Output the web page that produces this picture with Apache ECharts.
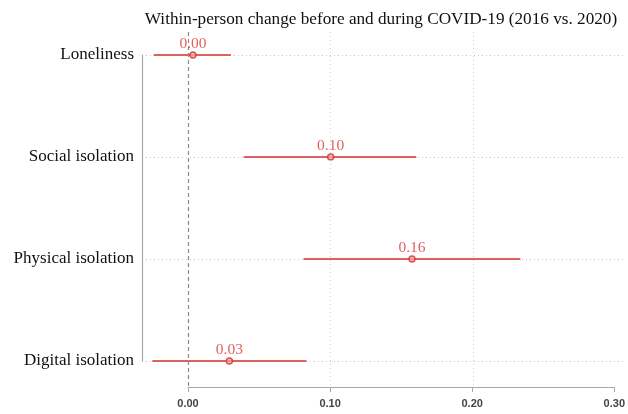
<!DOCTYPE html>
<html>
<head>
<meta charset="utf-8">
<script src="https://cdn.jsdelivr.net/npm/echarts@6/dist/echarts.min.js"></script>
<style>
html,body{margin:0;padding:0;background:#fff;}
#chart{width:628px;height:414px;}
</style>
</head>
<body>
<div id="chart"></div>
<script>
const titleText = 'Within-person change before and during COVID-19 (2016 vs. 2020)';
const categories = ['Loneliness', 'Social isolation', 'Physical isolation', 'Digital isolation'];
const estimates = [0.0035, 0.100, 0.157, 0.029];
const ciLow = [-0.024, 0.039, 0.081, -0.025];
const ciHigh = [0.030, 0.160, 0.233, 0.083];
const xTickMin = 0, xTickMax = 0.3, xTickStep = 0.1;
const refLines = [0.1, 0.2];

const RED = '#d62f2f';
const AXIS = '#a8a8a8';
const SERIF = '"Liberation Serif", "Times New Roman", serif';

// pixel geometry of the plot
const plotLeft = 142, plotRight = 623, zeroPx = 188, maxPx = 616;
const pxPerUnit = (maxPx - zeroPx) / (xTickMax - xTickMin);
const xMin = xTickMin - (zeroPx - plotLeft) / pxPerUnit;
const xMax = xTickMax + (plotRight - maxPx) / pxPerUnit;
const gTop = 32, gBottomPx = 387, firstCat = 55, lastCat = 361;
const catStep = (lastCat - firstCat) / (categories.length - 1);
const yMin = -(firstCat - gTop) / catStep;
const yMax = (categories.length - 1) + (gBottomPx - lastCat) / catStep;

const idx = categories.map((c, i) => i);
const pointData = idx.map(i => [estimates[i], i]);
const ciData = idx.map(i => [ciLow[i], ciHigh[i], i]);

const chart = echarts.init(document.getElementById('chart'), null, {renderer: 'canvas'});
chart.setOption({
  animation: false,
  backgroundColor: '#fff',
  title: {
    text: titleText,
    left: 376, top: 6, textAlign: 'center',
    textStyle: {fontFamily: SERIF, fontSize: 17.2, fontWeight: 'normal', color: '#111'}
  },
  grid: [
    {left: plotLeft, right: 628 - plotRight, top: gTop, bottom: 414 - gBottomPx},
    {left: plotLeft, right: 628 - plotRight, top: firstCat, bottom: 414 - lastCat},
    {left: zeroPx, right: 628 - maxPx, top: gTop, bottom: 414 - gBottomPx}
  ],
  xAxis: [
    {gridIndex: 0, type: 'value', min: xMin, max: xMax, show: false},
    {gridIndex: 1, type: 'value', min: 0, max: 1, show: false},
    {gridIndex: 2, type: 'value', min: xTickMin, max: xTickMax, interval: xTickStep,
     axisLine: {show: true, lineStyle: {color: AXIS, width: 1.2}},
     axisTick: {show: true, length: 5, lineStyle: {color: AXIS}},
     axisLabel: {margin: 11, fontSize: 11, fontWeight: 'bold', color: '#444', fontFamily: 'Liberation Sans, Arial, sans-serif',
                 formatter: v => v.toFixed(2)},
     splitLine: {show: false}}
  ],
  yAxis: [
    {gridIndex: 0, type: 'value', inverse: true, min: yMin, max: yMax, show: false},
    {gridIndex: 1, type: 'category', inverse: true, boundaryGap: false, data: categories,
     axisLine: {show: true, lineStyle: {color: AXIS, width: 1.2}},
     axisTick: {show: false},
     axisLabel: {interval: 0, margin: 8, fontFamily: SERIF, fontSize: 17, color: '#111'},
     splitLine: {show: true, interval: 0, lineStyle: {color: '#c8c8c8', type: [1, 3], width: 1}}},
    {gridIndex: 2, type: 'value', show: false, min: 0, max: 1}
  ],
  series: [
    {
      type: 'scatter', xAxisIndex: 0, yAxisIndex: 0, z: 1, silent: true,
      data: pointData, symbolSize: 0,
      markLine: {
        silent: true, symbol: 'none', label: {show: false},
        data: [
          {xAxis: 0, lineStyle: {color: '#8a8a8a', type: [4, 3], width: 1.2}},
          ...refLines.map(v => ({xAxis: v, lineStyle: {color: '#cfcfcf', type: [1, 3], width: 1}}))
        ]
      }
    },
    {
      type: 'custom', xAxisIndex: 0, yAxisIndex: 0, z: 3, silent: true,
      data: ciData,
      renderItem: (params, api) => {
        const a = api.coord([api.value(0), api.value(2)]);
        const b = api.coord([api.value(1), api.value(2)]);
        return {type: 'line', shape: {x1: a[0], y1: a[1], x2: b[0], y2: b[1]},
                style: {stroke: RED, lineWidth: 1.5}};
      }
    },
    {
      type: 'scatter', xAxisIndex: 0, yAxisIndex: 0, z: 4, silent: true,
      data: pointData, symbol: 'circle', symbolSize: 6,
      itemStyle: {color: '#f0a8a8', borderColor: RED, borderWidth: 1.5},
      label: {show: true, position: 'top', distance: -1, fontFamily: SERIF, fontSize: 15.5, color: '#dc3532',
              formatter: p => p.value[0].toFixed(2)}
    }
  ]
});
</script>
</body>
</html>
